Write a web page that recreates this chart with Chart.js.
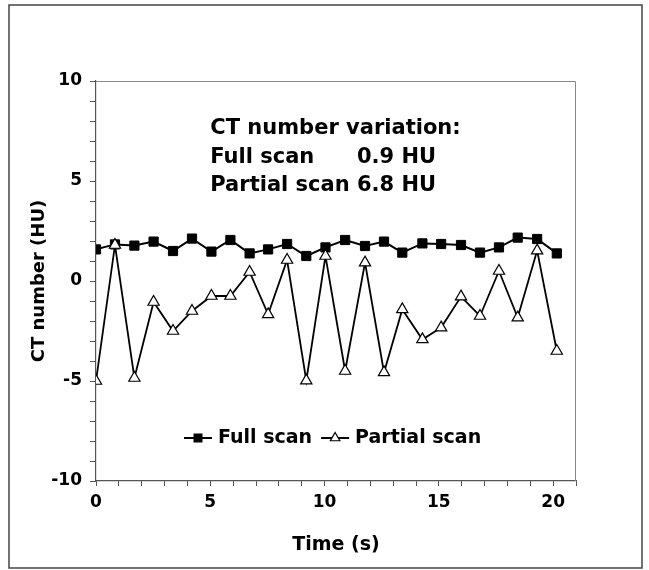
<!DOCTYPE html>
<html>
<head>
<meta charset="utf-8">
<script src="https://cdn.jsdelivr.net/npm/chart.js@4"></script>
<style>
  html, body { margin: 0; padding: 0; background: #fff; }
  #wrap { width: 649px; height: 570px; }
</style>
</head>
<body>
<div id="wrap"><canvas id="chart" width="649" height="570"></canvas></div>
<script>
// values
const timeS = [0, 0.83, 1.68, 2.52, 3.37, 4.2, 5.05, 5.88, 6.72, 7.53, 8.36, 9.2, 10.04,
    10.9, 11.77, 12.6, 13.4, 14.28, 15.1, 15.97, 16.8, 17.63, 18.45, 19.3, 20.16];
const fullScan = [1.58, 1.83, 1.77, 1.97, 1.5, 2.12, 1.47, 2.05, 1.38, 1.58, 1.85, 1.25, 1.68,
    2.05, 1.75, 1.97, 1.42, 1.88, 1.85, 1.8, 1.42, 1.68, 2.17, 2.1, 1.38];
const partialScan = [-5.0, 1.8, -4.85, -1.05, -2.5, -1.5, -0.75, -0.75, 0.45, -1.67, 1.05, -4.98, 1.25,
    -4.5, 0.92, -4.57, -1.42, -2.92, -2.33, -0.78, -1.75, 0.5, -1.83, 1.52, -3.5];
const xTicks = [0, 5, 10, 15, 20];
const yTicks = [-10, -5, 0, 5, 10];
const noteLines = ['CT number variation:', 'Full scan', 'Partial scan 6.8 HU'];
const fullNoteValue = '0.9 HU';
const legendLabels = ['Full scan', 'Partial scan'];

const FONT = '"DejaVu Sans", Verdana, sans-serif';

function toPoints(xs, ys) {
    return xs.map((x, i) => ({ x: x, y: ys[i] }));
}

// frame, plot box, note text and in-plot legend
const decorPlugin = {
    id: 'decor',
    beforeDraw(chart) {
        const ctx = chart.ctx;
        ctx.save();
        ctx.strokeStyle = '#444';
        ctx.lineWidth = 1.5;
        ctx.strokeRect(9, 5, 633, 563);
        ctx.restore();
    },
    beforeDatasetsDraw(chart) {
        const ctx = chart.ctx;
        const a = chart.chartArea;
        ctx.save();
        ctx.strokeStyle = '#888';
        ctx.lineWidth = 1;
        ctx.beginPath();
        ctx.moveTo(a.left, a.top + 0.5);
        ctx.lineTo(a.right - 0.5, a.top + 0.5);
        ctx.lineTo(a.right - 0.5, a.bottom);
        ctx.stroke();
        ctx.restore();
    },
    afterDatasetsDraw(chart) {
        const ctx = chart.ctx;
        const xs = chart.scales.x, ys = chart.scales.y;
        ctx.save();
        ctx.fillStyle = '#000';
        ctx.textBaseline = 'middle';
        ctx.font = 'bold 21px ' + FONT;
        const nx = xs.getPixelForValue(5.0);
        const nyTop = ys.getPixelForValue(7.6);
        const lh = 28.5;
        ctx.fillText(noteLines[0], nx, nyTop);
        ctx.fillText(noteLines[1], nx, nyTop + lh);
        ctx.fillText(noteLines[2], nx, nyTop + 2 * lh);
        const valX = nx + ctx.measureText('Partial scan ').width;
        ctx.fillText(fullNoteValue, valX, nyTop + lh);

        // legend
        const ly = ys.getPixelForValue(-7.85);
        let lx = xs.getPixelForValue(3.85);
        ctx.font = 'bold 19px ' + FONT;
        for (let i = 0; i < legendLabels.length; i++) {
            const ds = chart.data.datasets.find(d => d.label === legendLabels[i]);
            ctx.strokeStyle = '#000';
            ctx.lineWidth = 2;
            ctx.beginPath();
            ctx.moveTo(lx, ly);
            ctx.lineTo(lx + 28, ly);
            ctx.stroke();
            ctx.fillStyle = ds.pointBackgroundColor;
            ctx.lineWidth = 1.2;
            ctx.beginPath();
            const r = ds.pointRadius - 1;
            const cx = lx + 14;
            if (ds.pointStyle === 'rect') {
                const s = r * Math.SQRT1_2;
                ctx.rect(cx - s, ly - s, 2 * s, 2 * s);
            } else {
                ctx.moveTo(cx, ly - r);
                ctx.lineTo(cx + r * 0.866, ly + r / 2);
                ctx.lineTo(cx - r * 0.866, ly + r / 2);
                ctx.closePath();
            }
            ctx.fill();
            ctx.stroke();
            ctx.fillStyle = '#000';
            ctx.fillText(legendLabels[i], lx + 34, ly);
            lx += 34 + ctx.measureText(legendLabels[i]).width + 9;
        }
        ctx.restore();
    }
};

new Chart(document.getElementById('chart'), {
    type: 'line',
    data: {
        datasets: [
            {
                label: 'Partial scan',
                data: toPoints(timeS, partialScan),
                borderColor: '#000',
                borderWidth: 1.8,
                pointStyle: 'triangle',
                pointRadius: 6.5,
                pointBorderWidth: 1.2,
                pointBorderColor: '#000',
                pointBackgroundColor: '#fff',
                tension: 0,
                order: 0
            },
            {
                label: 'Full scan',
                data: toPoints(timeS, fullScan),
                borderColor: '#000',
                borderWidth: 2,
                pointStyle: 'rect',
                pointRadius: 6.5,
                pointBorderWidth: 1,
                pointBorderColor: '#000',
                pointBackgroundColor: '#000',
                tension: 0,
                order: 1
            }
        ]
    },
    options: {
        responsive: false,
        animation: false,
        devicePixelRatio: 1,
        layout: { padding: { top: 81, right: 73, left: 0, bottom: 0 } },
        plugins: {
            legend: { display: false },
            tooltip: { enabled: false }
        },
        scales: {
            x: {
                type: 'linear',
                min: 0,
                max: 21,
                afterFit(s) { s.height = 89; },
                afterBuildTicks(s) {
                    s.ticks = [];
                    for (let v = 0; v <= 21; v++) s.ticks.push({ value: v });
                },
                ticks: {
                    autoSkip: false,
                    maxRotation: 0,
                    padding: 6,
                    color: '#000',
                    font: { family: FONT, size: 17, weight: 'bold' },
                    callback: v => xTicks.includes(v) ? String(v) : ''
                },
                grid: {
                    drawOnChartArea: false,
                    drawTicks: true,
                    tickLength: 5,
                    color: '#555',
                    lineWidth: 1
                },
                border: { display: true, color: '#555', width: 1.2 },
                title: {
                    display: true,
                    text: 'Time (s)',
                    color: '#000',
                    font: { family: FONT, size: 19, weight: 'bold' },
                    padding: { top: 0, bottom: 14 }
                }
            },
            y: {
                type: 'linear',
                min: -10,
                max: 10,
                afterFit(s) { s.width = 96; },
                afterBuildTicks(s) {
                    s.ticks = [];
                    for (let v = -10; v <= 10; v++) s.ticks.push({ value: v });
                },
                ticks: {
                    autoSkip: false,
                    padding: 8,
                    color: '#000',
                    font: { family: FONT, size: 17, weight: 'bold' },
                    callback: v => yTicks.includes(v) ? String(v) : ''
                },
                grid: {
                    drawOnChartArea: false,
                    drawTicks: true,
                    tickLength: 6,
                    color: '#555',
                    lineWidth: 1
                },
                border: { display: true, color: '#555', width: 1.2 },
                title: {
                    display: true,
                    text: 'CT number (HU)',
                    color: '#000',
                    font: { family: FONT, size: 18, weight: 'bold' },
                    padding: { top: 29, bottom: 0 }
                }
            }
        }
    },
    plugins: [decorPlugin]
});
</script>
</body>
</html>
